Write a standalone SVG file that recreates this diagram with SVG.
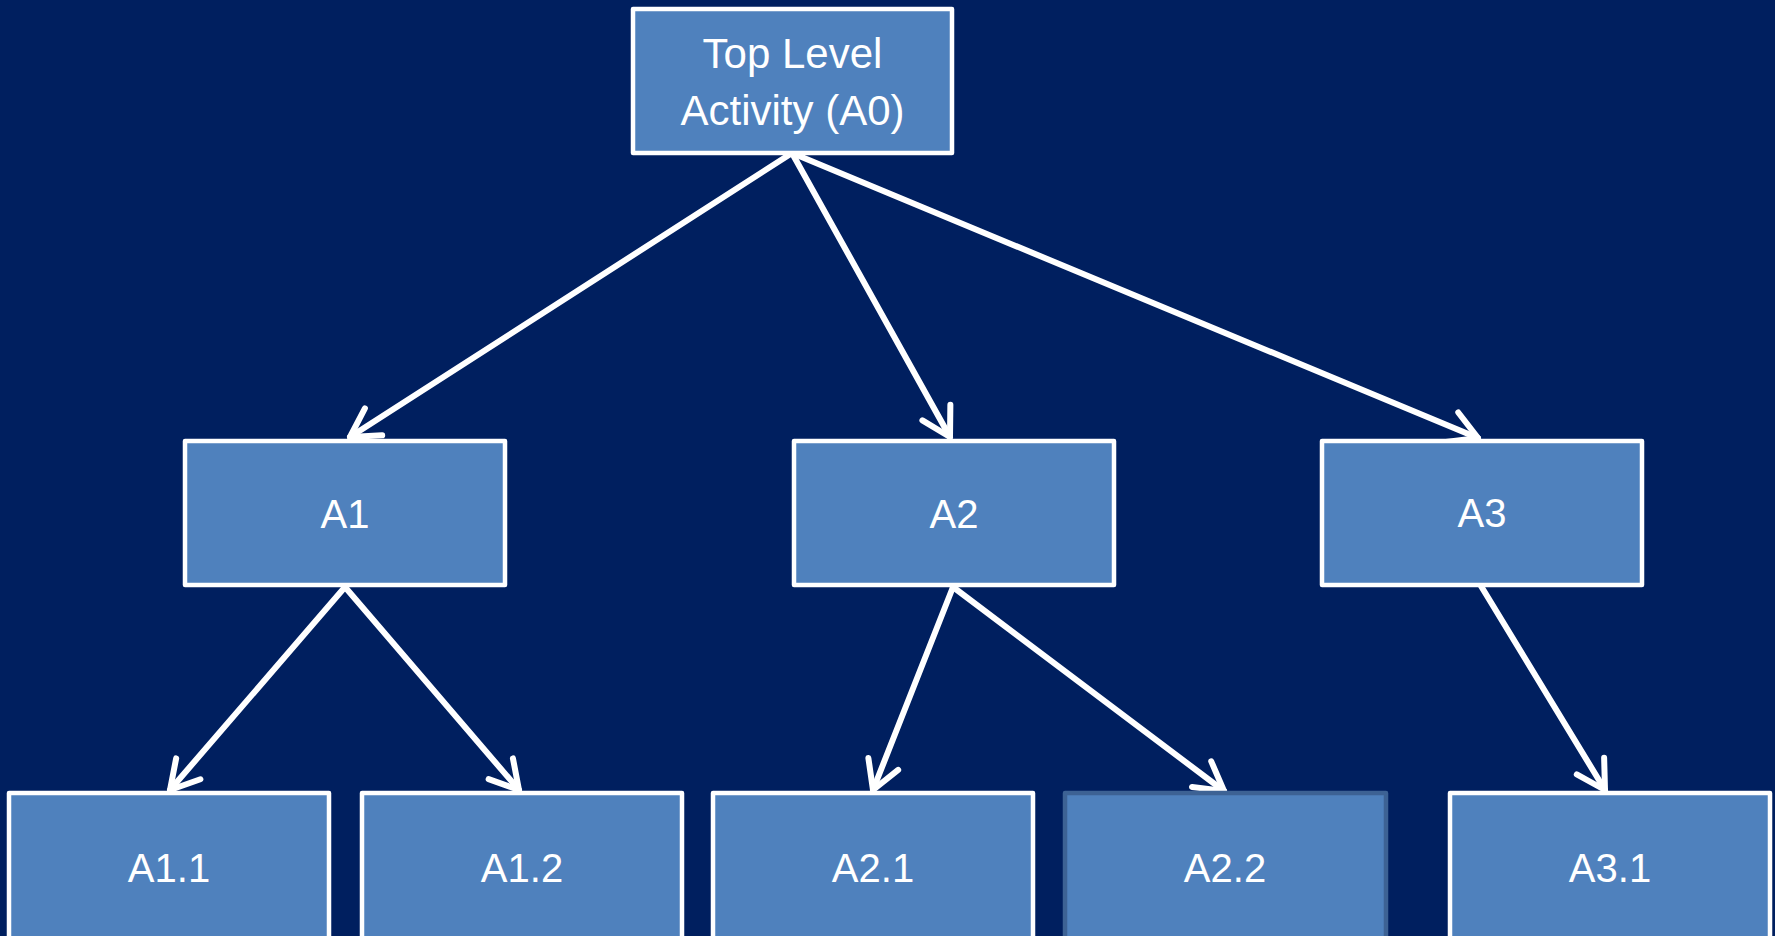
<svg xmlns="http://www.w3.org/2000/svg" width="1775" height="936" viewBox="0 0 1775 936">
  <defs>
    <style>
      .box { fill: #4f81bd; stroke: #ffffff; stroke-width: 4.5; stroke-linejoin: round; }
      .box.dim { stroke: #3d6294; }
      .lbl { fill: #ffffff; font-family: "Liberation Sans", Arial, sans-serif; font-size: 40px; text-anchor: middle; }
      .lbl.big { font-size: 42px; }
      .edge { fill: none; stroke: #ffffff; stroke-width: 6; stroke-linecap: round; marker-end: url(#open); }
    </style>
    <marker id="open" markerUnits="userSpaceOnUse" markerWidth="60" markerHeight="60" viewBox="-40 -30 50 60" refX="0" refY="0" orient="auto">
      <path d="M-28,-16 L0,0 L-28,16" fill="none" stroke="#ffffff" stroke-width="6" stroke-linecap="round" stroke-linejoin="round"/>
    </marker>
  </defs>

  <rect x="0" y="0" width="1775" height="936" fill="#001f5f"/>

  <!-- connectors -->
  <g id="connectors">
    <line class="edge" x1="792" y1="153" x2="350" y2="437"/>
    <line class="edge" x1="792" y1="153" x2="950" y2="437"/>
    <line class="edge" x1="792" y1="153" x2="1478" y2="438"/>
    <line class="edge" x1="345" y1="587" x2="170" y2="790"/>
    <line class="edge" x1="345" y1="587" x2="519" y2="790"/>
    <line class="edge" x1="953" y1="587" x2="873" y2="790"/>
    <line class="edge" x1="953" y1="587" x2="1224" y2="791"/>
    <line class="edge" x1="1481" y1="586" x2="1605" y2="790"/>
  </g>

  <g id="A0">
    <rect class="box" x="633" y="9" width="319" height="144"/>
    <text class="lbl big" x="792.5" y="68">Top Level</text>
    <text class="lbl big" x="792.5" y="125">Activity (A0)</text>
  </g>

  <g id="A1">
    <rect class="box" x="185" y="441" width="320" height="144"/>
    <text class="lbl" x="345" y="528">A1</text>
  </g>
  <g id="A2">
    <rect class="box" x="794" y="441" width="320" height="144"/>
    <text class="lbl" x="954" y="528">A2</text>
  </g>
  <g id="A3">
    <rect class="box" x="1322" y="441" width="320" height="144"/>
    <text class="lbl" x="1482" y="527">A3</text>
  </g>

  <g id="A1.1">
    <rect class="box" x="9" y="793" width="320" height="160"/>
    <text class="lbl" x="169" y="882">A1.1</text>
  </g>
  <g id="A1.2">
    <rect class="box" x="362" y="793" width="320" height="160"/>
    <text class="lbl" x="522" y="882">A1.2</text>
  </g>
  <g id="A2.1">
    <rect class="box" x="713" y="793" width="320" height="160"/>
    <text class="lbl" x="873" y="882">A2.1</text>
  </g>
  <g id="A2.2">
    <rect class="box dim" x="1065" y="793" width="321" height="160"/>
    <text class="lbl" x="1225" y="882">A2.2</text>
  </g>
  <g id="A3.1">
    <rect class="box" x="1450" y="793" width="320" height="160"/>
    <text class="lbl" x="1610" y="882">A3.1</text>
  </g>
</svg>
